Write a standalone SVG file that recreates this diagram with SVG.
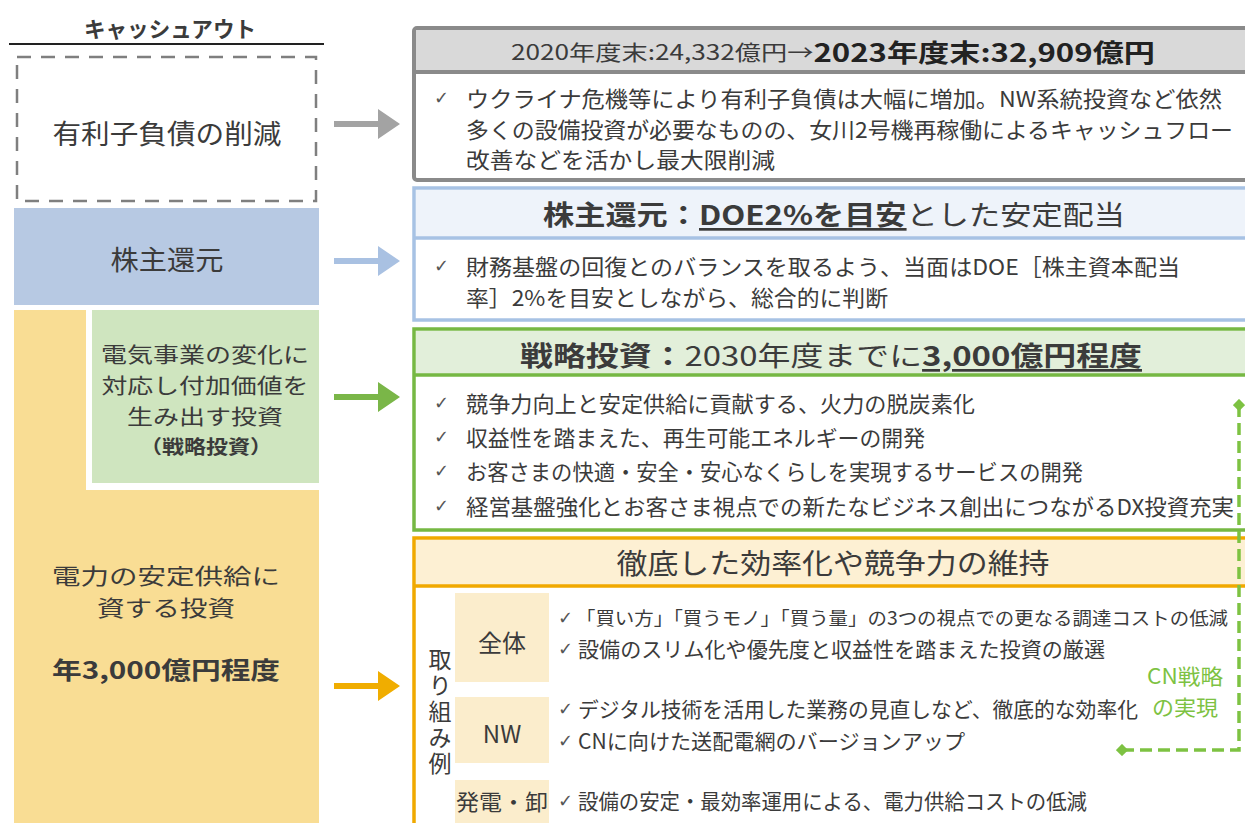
<svg xmlns="http://www.w3.org/2000/svg" width="1245" height="823" viewBox="0 0 1245 823">
<style>
text{font-family:"Noto Sans CJK JP","Noto Sans",sans-serif;fill:#3b3b3b;dominant-baseline:central}
.c{text-anchor:middle}
.b{font-weight:bold}
.body{font-size:22px}
.sm{font-size:21px}
.hd{font-size:27px}
.ck{font-family:"DejaVu Sans",sans-serif;font-size:18px;fill:#555}
.ul{text-decoration:underline}
.cn{fill:#7dc242;font-size:21px}
</style>
<defs>
<marker id="dia" viewBox="0 0 10 10" refX="5" refY="5" markerWidth="3.5" markerHeight="3.5" orient="auto" markerUnits="strokeWidth">
<path d="M5 0L10 5L5 10L0 5Z" fill="#7dc242"/>
</marker>
</defs>
<rect width="1245" height="823" fill="#fff"/>

<!-- left column -->
<g id="title">
<text class="c b" x="170" y="27" font-size="22" textLength="172" lengthAdjust="spacingAndGlyphs">キャッシュアウト</text>
<line x1="9" y1="44" x2="324" y2="44" stroke="#222" stroke-width="2"/>
</g>
<g id="debt">
<rect x="17" y="57" width="299" height="144" fill="#fff" stroke="#7f7f7f" stroke-width="2.5" stroke-dasharray="14 10"/>
<text class="c" x="167" y="132" font-size="27" textLength="229" lengthAdjust="spacingAndGlyphs">有利子負債の削減</text>
</g>
<g id="shareholder">
<rect x="14" y="208" width="305" height="97" fill="#b7c9e3"/>
<text class="c" x="167" y="258" font-size="27" textLength="113" lengthAdjust="spacingAndGlyphs">株主還元</text>
</g>
<g id="supply">
<rect x="14" y="310" width="305" height="520" fill="#f9dd94"/>
<text class="c" font-size="22"><tspan x="166" y="574" textLength="228" lengthAdjust="spacingAndGlyphs">電力の安定供給に</tspan><tspan x="166" y="606" textLength="138" lengthAdjust="spacingAndGlyphs">資する投資</tspan></text>
<text class="c b" x="166" y="668" font-size="24" fill="#2a2a2a" textLength="228" lengthAdjust="spacingAndGlyphs">年3,000億円程度</text>
</g>
<g id="strategic">
<rect x="86" y="310" width="233" height="180" fill="#fff"/>
<rect x="92" y="310" width="227" height="173" fill="#cfe5bf"/>
<text class="c" font-size="21"><tspan x="205" y="353" textLength="208" lengthAdjust="spacingAndGlyphs">電気事業の変化に</tspan><tspan x="205" y="384" textLength="207" lengthAdjust="spacingAndGlyphs">対応し付加価値を</tspan><tspan x="205" y="415" textLength="156" lengthAdjust="spacingAndGlyphs">生み出す投資</tspan><tspan class="b" font-size="19" x="206" y="445" textLength="132" lengthAdjust="spacingAndGlyphs">（戦略投資）</tspan></text>
</g>

<!-- right column -->
<g id="box-debt">
<rect x="414" y="28" width="840" height="152" rx="3" fill="#fff" stroke="#8a8a8a" stroke-width="4"/>
<rect x="416" y="30" width="836" height="42" fill="#d9d9d9"/>
<line x1="414" y1="72" x2="1250" y2="72" stroke="#8a8a8a" stroke-width="4"/>
<text class="c" x="833" y="51" textLength="644" lengthAdjust="spacingAndGlyphs"><tspan font-size="21">2020年度末:24,332億円→</tspan><tspan class="b" font-size="25" fill="#222">2023年度末:32,909億円</tspan></text>
<text class="ck" x="434" y="97">✓</text>
<text class="body" x="466" y="97" textLength="756" lengthAdjust="spacingAndGlyphs">ウクライナ危機等により有利子負債は大幅に増加。NW系統投資など依然</text>
<text class="body" x="466" y="128" textLength="767" lengthAdjust="spacingAndGlyphs">多くの設備投資が必要なものの、女川2号機再稼働によるキャッシュフロー</text>
<text class="body" x="466" y="158" textLength="309" lengthAdjust="spacingAndGlyphs">改善などを活かし最大限削減</text>
</g>
<g id="box-return">
<rect x="414" y="188" width="840" height="132" fill="#fff" stroke="#a7c2e4" stroke-width="3.5"/>
<rect x="416" y="190" width="836" height="48" fill="#eef3fa"/>
<line x1="414" y1="238" x2="1250" y2="238" stroke="#a7c2e4" stroke-width="3.5"/>
<text class="c hd" x="834" y="213" fill="#222" textLength="582" lengthAdjust="spacingAndGlyphs"><tspan class="b">株主還元：</tspan><tspan class="b ul">DOE2%を目安</tspan><tspan>とした安定配当</tspan></text>
<text class="ck" x="434" y="265">✓</text>
<text class="body" x="466" y="265" textLength="714" lengthAdjust="spacingAndGlyphs">財務基盤の回復とのバランスを取るよう、当面はDOE［株主資本配当</text>
<text class="body" x="466" y="296" textLength="422" lengthAdjust="spacingAndGlyphs">率］2%を目安としながら、総合的に判断</text>
</g>
<g id="box-strategic">
<rect x="414" y="329" width="840" height="201" fill="#fff" stroke="#76b843" stroke-width="3.5"/>
<rect x="416" y="331" width="836" height="44" fill="#e2efda"/>
<line x1="414" y1="375" x2="1250" y2="375" stroke="#76b843" stroke-width="3.5"/>
<text class="c hd" x="831" y="354" fill="#222" textLength="622" lengthAdjust="spacingAndGlyphs"><tspan class="b">戦略投資：</tspan><tspan>2030年度までに</tspan><tspan class="b ul">3,000億円程度</tspan></text>
<text class="ck" x="434" y="402">✓</text>
<text class="body" x="466" y="402" textLength="509" lengthAdjust="spacingAndGlyphs">競争力向上と安定供給に貢献する、火力の脱炭素化</text>
<text class="ck" x="434" y="436">✓</text>
<text class="body" x="466" y="436" textLength="459" lengthAdjust="spacingAndGlyphs">収益性を踏まえた、再生可能エネルギーの開発</text>
<text class="ck" x="434" y="470">✓</text>
<text class="body" x="466" y="470" textLength="617" lengthAdjust="spacingAndGlyphs">お客さまの快適・安全・安心なくらしを実現するサービスの開発</text>
<text class="ck" x="434" y="505">✓</text>
<text class="body" x="466" y="505" textLength="768" lengthAdjust="spacingAndGlyphs">経営基盤強化とお客さま視点での新たなビジネス創出につながるDX投資充実</text>
</g>
<g id="box-efficiency">
<rect x="414" y="538" width="840" height="300" fill="#fff" stroke="#f0a900" stroke-width="3.5"/>
<rect x="416" y="540" width="836" height="46" fill="#fdf0d3"/>
<line x1="414" y1="586" x2="1250" y2="586" stroke="#f0a900" stroke-width="3.5"/>
<text class="c" x="833" y="562" font-size="28" textLength="433" lengthAdjust="spacingAndGlyphs">徹底した効率化や競争力の維持</text>
<text x="440" y="648" font-size="23" writing-mode="vertical-rl" letter-spacing="3" style="dominant-baseline:auto">取り組み例</text>
</g>
<g id="cat-all">
<rect x="455" y="593" width="94" height="89" fill="#fbedcc"/>
<text class="c" x="502" y="641" font-size="24">全体</text>
<text class="ck" x="558" y="617">✓</text>
<text x="576" y="617" font-size="18.5" textLength="652" lengthAdjust="spacingAndGlyphs">「買い方」「買うモノ」「買う量」の3つの視点での更なる調達コストの低減</text>
<text class="ck" x="558" y="648">✓</text>
<text class="sm" x="578" y="648" textLength="527" lengthAdjust="spacingAndGlyphs">設備のスリム化や優先度と収益性を踏まえた投資の厳選</text>
</g>
<g id="cat-nw">
<rect x="455" y="697" width="94" height="66" fill="#fbedcc"/>
<text class="c" x="502" y="732" font-size="24">NW</text>
<text class="ck" x="558" y="708">✓</text>
<text class="sm" x="578" y="708" textLength="560" lengthAdjust="spacingAndGlyphs">デジタル技術を活用した業務の見直しなど、徹底的な効率化</text>
<text class="ck" x="558" y="740">✓</text>
<text class="sm" x="578" y="740" textLength="387" lengthAdjust="spacingAndGlyphs">CNに向けた送配電網のバージョンアップ</text>
</g>
<g id="cat-gen">
<rect x="455" y="780" width="94" height="50" fill="#fbedcc"/>
<text class="c" x="502" y="800" font-size="22" textLength="92" lengthAdjust="spacingAndGlyphs">発電・卸</text>
<text class="ck" x="558" y="800">✓</text>
<text class="sm" x="578" y="800" textLength="509" lengthAdjust="spacingAndGlyphs">設備の安定・最効率運用による、電力供給コストの低減</text>
</g>
<g id="cn-label">
<text class="c cn" x="1185" y="675" textLength="76" lengthAdjust="spacingAndGlyphs">CN戦略</text>
<text class="c cn" x="1185" y="706" textLength="66" lengthAdjust="spacingAndGlyphs">の実現</text>
</g>

<!-- connectors -->
<g id="connectors">
<path d="M334 121h44v-12l22 15l-22 15v-12h-44z" fill="#a3a3a3"/>
<path d="M334 258h44v-12l22 15l-22 15v-12h-44z" fill="#a9c1e2"/>
<path d="M334 394h44v-12l22 15l-22 15v-12h-44z" fill="#7ab648"/>
<path d="M334 683h44v-12l22 15l-22 15v-12h-44z" fill="#f0ad00"/>
<polyline points="1122,750 1239,750 1239,405" fill="none" stroke="#7dc242" stroke-width="3.5" stroke-dasharray="12 6" marker-start="url(#dia)" marker-end="url(#dia)"/>
</g>
</svg>
